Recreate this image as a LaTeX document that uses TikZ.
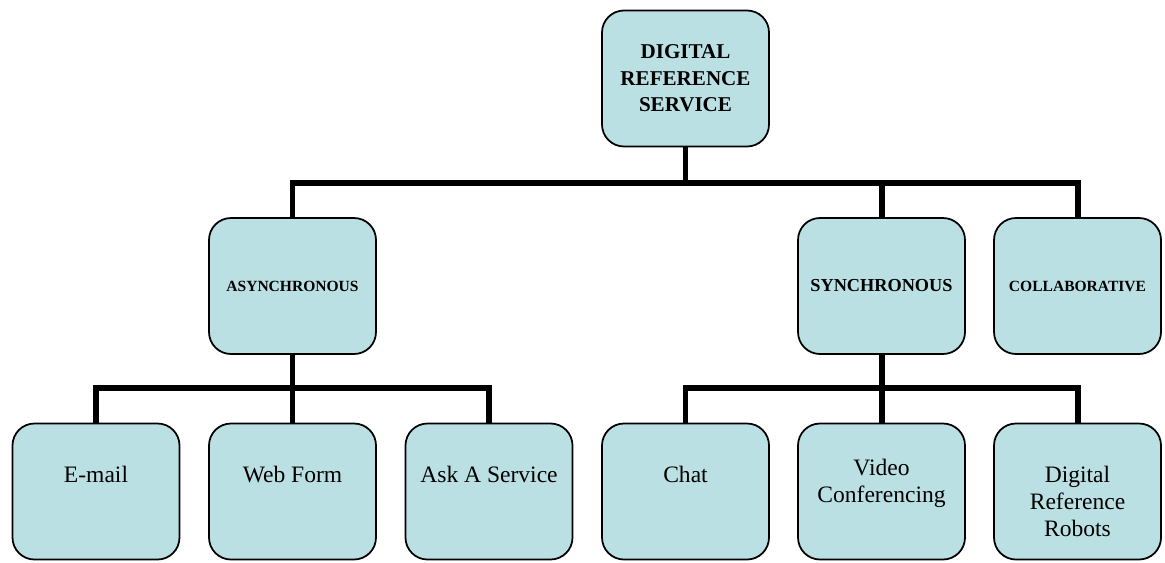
\documentclass[tikz,border=0pt]{standalone}
\usepackage{fontspec}
\setmainfont{Liberation Serif}

\newlength{\du}
\setlength{\du}{0.020000cm}
\definecolor{boxfill}{rgb}{0.733333, 0.878431, 0.890196}

\tikzset{
  refbox/.style={draw=black, fill=boxfill, line width=1.000000pt, rounded corners=22\du,
    minimum width=167\du, minimum height=136\du, inner sep=0pt, align=center},
  branch/.style={line width=3.400000pt, line join=miter},
  headtext/.style={font=\bfseries\fontsize{12}{15}\selectfont},
  kindtext/.style={font=\bfseries\fontsize{8.85}{10}\selectfont},
  leaftext/.style={anchor=north, inner sep=0pt, align=center, font=\fontsize{13.4}{15.3}\selectfont},
}

\begin{document}
\begin{tikzpicture}
\pgftransformxscale{1.000000}
\pgftransformyscale{-1.000000}
\useasboundingbox (0\du,0\du) rectangle (1165\du,562\du);
% service at the top
\node[refbox, headtext] (top) at (685.500000\du,78.500000\du) {DIGITAL\\REFERENCE\\SERVICE};
% second row
\node[refbox, kindtext] (async) at (292.500000\du,286.000000\du) {ASYNCHRONOUS};
\node[refbox, kindtext, font=\bfseries\fontsize{10.4}{12}\selectfont] (sync) at (881.500000\du,286.000000\du) {SYNCHRONOUS};
\node[refbox, kindtext] (collab) at (1077.500000\du,286.000000\du) {COLLABORATIVE};
% bottom row
\node[refbox] (email) at (96.000000\du,491.500000\du) {};
\node[refbox] (web) at (292.500000\du,491.500000\du) {};
\node[refbox] (ask) at (489.000000\du,491.500000\du) {};
\node[refbox] (chat) at (685.500000\du,491.500000\du) {};
\node[refbox] (video) at (881.500000\du,491.500000\du) {};
\node[refbox] (robots) at (1077.500000\du,491.500000\du) {};
\node[leaftext] (email-l) at (96.000000\du,466.000000\du) {E-mail};
\node[leaftext] (web-l) at (292.500000\du,466.000000\du) {Web Form};
\node[leaftext] (ask-l) at (489.000000\du,466.000000\du) {Ask A Service};
\node[leaftext] (chat-l) at (685.500000\du,466.000000\du) {Chat};
\node[leaftext] (video-l) at (881.500000\du,459.000000\du) {Video\\Conferencing};
\node[leaftext] (robots-l) at (1077.500000\du,466.000000\du) {Digital\\Reference\\Robots};
% bus lines
\coordinate (topbus) at (685.500000\du,183.000000\du);
\coordinate (asyncbus) at (292.500000\du,388.000000\du);
\coordinate (syncbus) at (881.500000\du,388.000000\du);
\draw[branch] (top.south) -- (topbus);
\draw[branch] (async.north) -- (async.north |- topbus) -- (collab.north |- topbus) -- (collab.north);
\draw[branch] (sync.north) -- (sync.north |- topbus);
\draw[branch] (async.south) -- (asyncbus);
\draw[branch] (email.north) -- (email.north |- asyncbus) -- (ask.north |- asyncbus) -- (ask.north);
\draw[branch] (web.north) -- (web.north |- asyncbus);
\draw[branch] (sync.south) -- (syncbus);
\draw[branch] (chat.north) -- (chat.north |- syncbus) -- (robots.north |- syncbus) -- (robots.north);
\draw[branch] (video.north) -- (video.north |- syncbus);
\end{tikzpicture}
\end{document}
